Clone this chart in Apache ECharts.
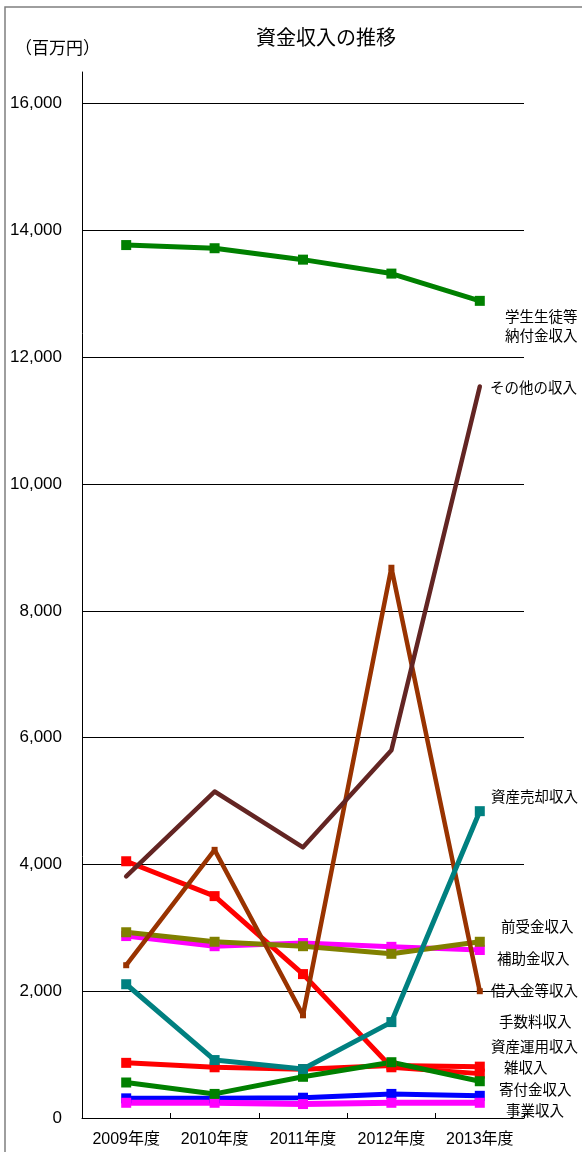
<!DOCTYPE html>
<html>
<head>
<meta charset="utf-8">
<script src="https://cdn.jsdelivr.net/npm/echarts@6/dist/echarts.min.js"></script>
<style>
  html, body { margin: 0; padding: 0; background: #fff; }
  #chart { width: 582px; height: 1152px; }
</style>
</head>
<body>
<div id="chart"></div>
<script>
// 年度
const categories = ['2009年度', '2010年度', '2011年度', '2012年度', '2013年度'];

// 資金収入（百万円）
const tuition      = [13770, 13720, 13540, 13320, 12890]; // 学生生徒等納付金収入
const otherIncome  = [3810, 5150, 4270, 5800, 11540];     // その他の収入
const assetSale    = [2110, 914, 772, 1513, 4840];        // 資産売却収入
const advance      = [2930, 2780, 2710, 2590, 2780];      // 前受金収入
const subsidy      = [2870, 2710, 2760, 2700, 2650];      // 補助金収入
const borrowing    = [2410, 4230, 1620, 8680, 2000];      // 借入金等収入
const fees         = [4050, 3500, 2270, 800, 700];        // 手数料収入
const assetIncome  = [870, 800, 770, 830, 810];           // 資産運用収入
const misc         = [560, 380, 650, 880, 580];           // 雑収入
const donations    = [310, 310, 320, 380, 350];           // 寄付金収入
const business     = [240, 240, 220, 240, 240];           // 事業収入

// 右側の凡例テキスト
const legendLines = [
  '学生生徒等', '納付金収入', 'その他の収入', '資産売却収入', '前受金収入', '補助金収入',
  '借入金等収入', '手数料収入', '資産運用収入', '雑収入', '寄付金収入', '事業収入'
];
const legendPos = [
  [505, 316], [505, 335], [490, 387], [491, 796], [501, 926], [497, 958],
  [491, 990], [499, 1021], [491, 1046], [504, 1067], [499, 1089], [506, 1110]
];

const yTickStep = 2000;

const cjk = "'Noto Sans CJK JP', sans-serif";
const latin = "'Liberation Sans', 'Noto Sans CJK JP', sans-serif";

function lineSeries(name, data, color, opts) {
  opts = opts || {};
  return {
    name: name,
    type: 'line',
    data: data,
    symbol: opts.symbol || 'rect',
    symbolSize: opts.symbolSize || 10,
    showAllSymbol: true,
    lineStyle: { color: color, width: opts.width || 5, cap: 'round', join: 'round' },
    itemStyle: { color: color },
    emphasis: { disabled: true },
    animation: false
  };
}

const chart = echarts.init(document.getElementById('chart'), null, { renderer: 'canvas' });

chart.setOption({
  backgroundColor: '#ffffff',
  animation: false,
  title: [
    {
      text: '資金収入の推移',
      left: 251,
      top: 22,
      textStyle: { fontFamily: cjk, fontSize: 20, fontWeight: 'normal', color: '#000' }
    },
    {
      text: '（百万円）',
      left: 10,
      top: 34,
      textStyle: { fontFamily: cjk, fontSize: 17, fontWeight: 'normal', color: '#000' }
    }
  ],
  grid: { left: 82, right: 58, top: 72, bottom: 34, containLabel: false },
  xAxis: {
    type: 'category',
    data: categories,
    boundaryGap: true,
    axisLine: { show: true, lineStyle: { color: '#000', width: 1 } },
    axisTick: { show: true, inside: true, length: 5, lineStyle: { color: '#000' } },
    axisLabel: {
      margin: 14,
      fontFamily: latin,
      fontSize: 16,
      color: '#000',
      interval: 0
    },
    splitLine: { show: false }
  },
  yAxis: {
    type: 'value',
    min: 0,
    max: 16500,
    interval: yTickStep,
    axisLine: { show: true, lineStyle: { color: '#000', width: 1 } },
    axisTick: { show: false },
    axisLabel: {
      margin: 20,
      fontFamily: latin,
      fontSize: 17,
      color: '#000',
      showMaxLabel: false,
      formatter: function (v) { return v.toLocaleString('en-US'); }
    },
    splitLine: {
      show: true,
      showMinLine: false,
      showMaxLine: false,
      lineStyle: { color: '#000', width: 1 }
    }
  },
  series: [
    lineSeries('寄付金収入', donations, '#0000FF'),
    lineSeries('事業収入', business, '#FF00FF', { width: 6 }),
    lineSeries('資産運用収入', assetIncome, '#FF0000'),
    lineSeries('手数料収入', fees, '#FF0000'),
    lineSeries('雑収入', misc, '#008000'),
    lineSeries('補助金収入', subsidy, '#FF00FF'),
    lineSeries('前受金収入', advance, '#808000'),
    lineSeries('借入金等収入', borrowing, '#993300', { symbolSize: 6, width: 4.5 }),
    lineSeries('資産売却収入', assetSale, '#008080'),
    lineSeries('その他の収入', otherIncome, '#632523', { symbol: 'none', width: 4.5 }),
    lineSeries('学生生徒等納付金収入', tuition, '#008000')
  ],
  graphic: [
    {
      type: 'rect',
      silent: true,
      shape: { x: 5, y: 7, width: 700, height: 1300 },
      style: { fill: 'none', stroke: '#7f7f7f', lineWidth: 1.5 },
      z: -1
    }
  ].concat(legendLines.map(function (t, i) {
    return {
      type: 'text',
      silent: true,
      x: legendPos[i][0],
      y: legendPos[i][1],
      style: {
        text: t,
        fontFamily: cjk,
        fontSize: 14.5,
        fill: '#000',
        textAlign: 'left',
        textVerticalAlign: 'middle'
      }
    };
  }))
});
</script>
</body>
</html>
